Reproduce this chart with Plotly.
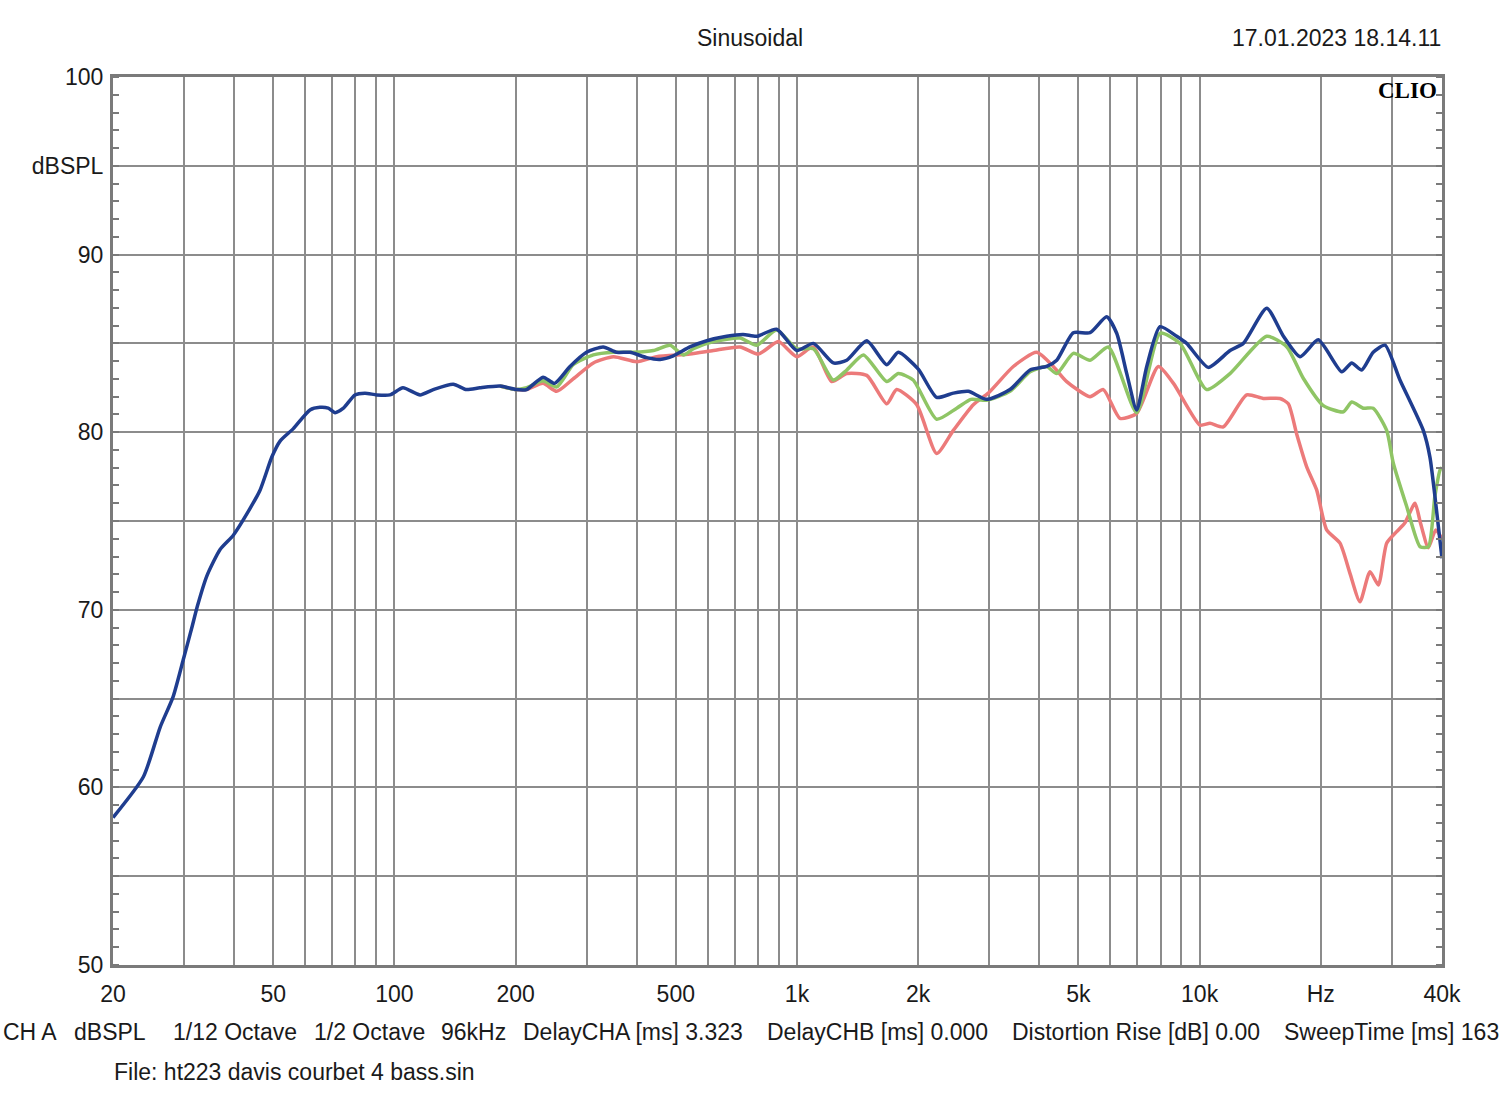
import plotly.graph_objects as go

# ---------------- data ----------------
blue_f = [20, 23.8, 26.2, 28.2, 29.9, 31.4, 32.4, 34.2, 36.9, 39.8, 43.0, 46.4, 49.6, 52.0, 56.1,
          61.7, 65.3, 68.5, 71.2, 74.7, 79.8, 84.5, 90.4, 97.5, 105, 115.8, 124.9, 140, 151, 163,
          183, 200.6, 213, 234, 250, 273, 300, 330, 356, 385, 423, 457, 493, 542, 597, 669, 735,
          794, 890, 998, 1098, 1231, 1329, 1490, 1671, 1785, 2001, 2223, 2445, 2664, 2959, 3381,
          3792, 4171, 4417, 4857, 5342, 5877, 6224, 6592, 6978, 7391, 7972, 8774, 9288, 10512,
          11900, 12840, 14680, 16150, 17760, 19710, 22540, 23870, 25270, 26990, 28870, 31450,
          35940, 37330, 38410, 40000]
blue_db = [58.3, 60.6, 63.4, 65.1, 67.2, 69.0, 70.2, 71.9, 73.4, 74.2, 75.4, 76.75, 78.6, 79.5, 80.2,
           81.25, 81.4, 81.35, 81.1, 81.35, 82.1, 82.2, 82.1, 82.1, 82.5, 82.1, 82.4, 82.7, 82.4, 82.5,
           82.6, 82.4, 82.4, 83.1, 82.75, 83.7, 84.5, 84.8, 84.5, 84.5, 84.2, 84.1, 84.3, 84.8, 85.15,
           85.4, 85.5, 85.4, 85.8, 84.6, 85.0, 83.9, 84.05, 85.15, 83.8, 84.5, 83.55, 81.96, 82.2,
           82.3, 81.85, 82.4, 83.5, 83.7, 84.05, 85.6, 85.6, 86.5, 85.57, 83.3, 81.25, 83.7, 85.94,
           85.4, 85.0, 83.65, 84.6, 85.0, 86.98, 85.4, 84.25, 85.2, 83.4, 83.9, 83.5, 84.5, 84.9,
           82.94, 80.1, 78.6, 76.4, 72.9]

green_f = [183, 200.6, 213, 234, 253, 278, 312, 350, 392, 440, 484, 522, 553, 620, 722, 794, 890,
           998, 1098, 1231, 1329, 1462, 1671, 1785, 1943, 2223, 2493, 2705, 2959, 3381, 3792, 4171,
           4417, 4857, 5342, 5932, 6978, 7972, 8943, 10410, 11900, 14680, 16470, 18090, 20290,
           22750, 23870, 25510, 26990, 29150, 30280, 32700, 35290, 37000, 38410, 39600, 40000]
green_db = [82.6, 82.4, 82.5, 82.9, 82.55, 83.8, 84.35, 84.5, 84.5, 84.6, 84.9, 84.35, 84.7, 85.1,
            85.3, 84.9, 85.75, 84.7, 84.7, 82.94, 83.5, 84.35, 82.85, 83.3, 82.94, 80.73, 81.35,
            81.85, 81.8, 82.3, 83.4, 83.7, 83.3, 84.44, 84.05, 84.8, 81.1, 85.57, 85.0, 82.4, 83.3,
            85.4, 84.8, 83.04, 81.5, 81.15, 81.7, 81.35, 81.35, 80.1, 78.25, 75.8, 73.55, 73.55,
            76.4, 77.9, 78.0]

red_f = [183, 200.6, 213, 234, 253, 278, 312, 350, 400, 448, 542, 620, 722, 802, 899, 998, 1098,
         1219, 1329, 1490, 1671, 1768, 1983, 2223, 2445, 2741, 2986, 3446, 3938, 4331, 4676, 5342,
         5766, 6340, 6978, 7898, 8610, 10020, 10612, 11452, 13090, 14390, 15830, 16610, 17420,
         18450, 19530, 20680, 22320, 23630, 25020, 26500, 27800, 29150, 30870, 32370, 34280,
         35350, 37000, 38590, 40000]
red_db = [82.6, 82.4, 82.4, 82.75, 82.3, 83.0, 83.9, 84.25, 83.97, 84.25, 84.4, 84.6, 84.8, 84.4,
          85.1, 84.25, 84.8, 82.85, 83.3, 83.2, 81.6, 82.4, 81.55, 78.8, 80.1, 81.55, 82.2, 83.7,
          84.5, 83.7, 82.85, 82.0, 82.4, 80.78, 81.06, 83.7, 82.75, 80.4, 80.5, 80.3, 82.1, 81.9,
          81.9, 81.6, 79.9, 78.05, 76.75, 74.5, 73.75, 72.05, 70.45, 72.15, 71.4, 73.75, 74.4,
          74.9, 76.0, 74.9, 73.5, 74.5, 74.0]

x_grid = [20, 30, 40, 50, 60, 70, 80, 90, 100, 200, 300, 400, 500, 600, 700, 800, 900,
          1000, 2000, 3000, 4000, 5000, 6000, 7000, 8000, 9000, 10000, 20000, 30000, 40000]
x_labels = {20: "20", 50: "50", 100: "100", 200: "200", 500: "500", 1000: "1k", 2000: "2k",
            5000: "5k", 10000: "10k", 20000: "Hz", 40000: "40k"}
y_grid = [50, 55, 60, 65, 70, 75, 80, 85, 90, 95, 100]
y_labels = {50: "50", 60: "60", 70: "70", 80: "80", 90: "90", 95: "dBSPL", 100: "100"}

title_text = "Sinusoidal"
date_text = "17.01.2023 18.14.11"
info_items = ["CH A", "dBSPL", "1/12 Octave", "1/2 Octave", "96kHz", "DelayCHA [ms] 3.323",
              "DelayCHB [ms] 0.000", "Distortion Rise [dB] 0.00", "SweepTime [ms] 163"]
info_px = [1, 72, 171, 312, 439, 521, 765, 1010, 1282]
file_text = "File: ht223 davis courbet 4 bass.sin"

# ---------------- figure ----------------
FONT = "Liberation Sans, Arial, sans-serif"
FS = 23
TXT = "#1a1a1a"
GRID = "#8c8c8c"
L, R, T, B = 113, 58, 77, 145
W, H = 1500, 1110
PW, PH = W - L - R, H - T - B

fig = go.Figure()
line_common = dict(width=3.5, shape="spline", smoothing=0.6)
fig.add_trace(go.Scatter(x=red_f, y=red_db, mode="lines",
                         line=dict(color="#ec7a7a", **line_common), showlegend=False))
fig.add_trace(go.Scatter(x=green_f, y=green_db, mode="lines",
                         line=dict(color="#8fc565", **line_common), showlegend=False))
fig.add_trace(go.Scatter(x=blue_f, y=blue_db, mode="lines",
                         line=dict(color="#1f3d8f", **line_common), showlegend=False))

fig.update_xaxes(type="log", range=[1.30103, 4.60206],
                 tickmode="array", tickvals=x_grid,
                 ticktext=[x_labels.get(v, "") for v in x_grid],
                 showgrid=True, gridcolor=GRID, gridwidth=1.8,
                 showline=True, linecolor="#7a7a7a", linewidth=3, mirror=True,
                 ticks="", ticklabelstandoff=6,
                 tickfont=dict(family=FONT, size=FS, color=TXT), zeroline=False)
fig.update_yaxes(range=[50, 100], tickmode="array", tickvals=y_grid,
                 ticktext=[y_labels.get(v, "") for v in y_grid],
                 showgrid=True, gridcolor=GRID, gridwidth=1.8,
                 showline=True, linecolor="#7a7a7a", linewidth=3, mirror="allticks",
                 ticks="", ticklabelstandoff=2,
                 minor=dict(dtick=1, ticks="inside", ticklen=6, tickwidth=1.5,
                            tickcolor="#7a7a7a", showgrid=False),
                 tickfont=dict(family=FONT, size=FS, color=TXT), zeroline=False)


def px_x(px):
    return (px - L) / PW


def px_y(py):
    return (H - B - py) / PH


ann = [
    dict(text=title_text, x=px_x(750), y=px_y(38), xanchor="center", yanchor="middle"),
    dict(text=date_text, x=px_x(1443), y=px_y(38), xanchor="right", yanchor="middle"),
    dict(text=file_text, x=px_x(112), y=px_y(1072), xanchor="left", yanchor="middle"),
]
for t, p in zip(info_items, info_px):
    ann.append(dict(text=t, x=px_x(p), y=px_y(1032), xanchor="left", yanchor="middle"))
for a in ann:
    a.update(xref="paper", yref="paper", showarrow=False,
             font=dict(family=FONT, size=FS, color=TXT))
    fig.add_annotation(**a)

fig.add_annotation(text="<b>CLIO</b>", x=px_x(1439), y=px_y(91), xref="paper", yref="paper",
                   xanchor="right", yanchor="middle", showarrow=False,
                   font=dict(family="Liberation Serif, serif", size=23, color="#000000"))

fig.update_layout(width=W, height=H, autosize=False,
                  margin=dict(l=L, r=R, t=T, b=B, pad=0),
                  paper_bgcolor="white", plot_bgcolor="white")

fig.write_html("out.html")
